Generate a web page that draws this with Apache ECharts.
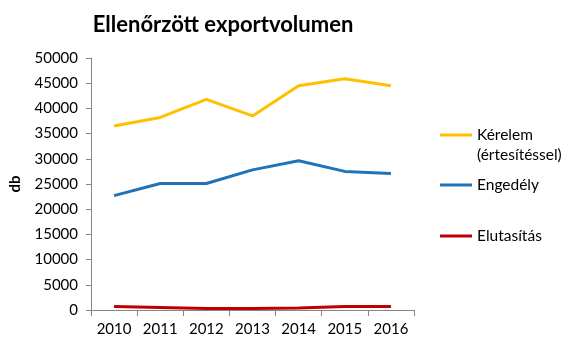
<!DOCTYPE html>
<html><head><meta charset="utf-8">
<script src="https://cdn.jsdelivr.net/npm/echarts@6/dist/echarts.min.js"></script>
<style>html,body{margin:0;padding:0;background:#fff}#c{width:585px;height:356px}</style>
</head><body><div id="c"></div>
<script>
const categories = ['2010','2011','2012','2013','2014','2015','2016'];
const kerelem = [36500, 38200, 41800, 38500, 44500, 45900, 44500];
const engedely = [22700, 25100, 25100, 27800, 29600, 27500, 27100];
const elutasitas = [700, 500, 300, 300, 400, 700, 700];
const seriesNames = ['Kérelem (értesítéssel)', 'Engedély', 'Elutasítás'];
const colors = ['#FFC000', '#1F73B8', '#C00000'];
const font = 'Lato, "Open Sans", sans-serif';

const chart = echarts.init(document.getElementById('c'), null, {renderer:'canvas'});
const mkLegend = (name, top, label) => ({
  data: [name], left: 440, top: top, orient: 'vertical',
  itemWidth: 32, itemHeight: 3, icon: 'rect', padding: 0,
  selectedMode: false,
  formatter: () => label,
  textStyle: {fontFamily: font, fontSize: 15.5, color: '#000'}
});
chart.setOption({
  animation: false,
  color: colors,
  title: {text: 'Ellenőrzött exportvolumen', left: 218, top: 9, textAlign: 'center',
    textStyle: {fontFamily: font, fontSize: 22, fontWeight: 'bold', color: '#000'}},
  grid: {left: 83, right: 171, top: 58, bottom: 46},
  legend: [
    mkLegend(seriesNames[0], 127, 'Kérelem'),
    mkLegend(seriesNames[1], 177, 'Engedély'),
    mkLegend(seriesNames[2], 228, 'Elutasítás')
  ],
  graphic: [{type: 'text', left: 477, top: 147,
    style: {text: '(értesítéssel)', font: '15.5px ' + font, fill: '#000'}}],
  xAxis: {type: 'category', data: categories, boundaryGap: true,
    axisLine: {lineStyle: {color: '#868686'}},
    axisTick: {show: true, length: 6, lineStyle: {color: '#868686'}},
    axisLabel: {margin: 12, fontFamily: font, fontSize: 15, color: '#000'}},
  yAxis: {type: 'value', min: 0, max: 50000, interval: 5000,
    name: 'db', nameLocation: 'middle', nameGap: 68, nameRotate: 90,
    nameTextStyle: {fontFamily: font, fontSize: 15, fontWeight: 'bold', color: '#000'},
    axisLine: {show: true, lineStyle: {color: '#868686'}},
    axisTick: {show: true, length: 5, lineStyle: {color: '#868686'}},
    splitLine: {show: false},
    axisLabel: {margin: 13, fontFamily: font, fontSize: 15, color: '#000',
      formatter: v => String(v)}},
  series: [
    {name: seriesNames[0], type: 'line', data: kerelem, symbol: 'none', lineStyle: {width: 3}},
    {name: seriesNames[1], type: 'line', data: engedely, symbol: 'none', lineStyle: {width: 3}},
    {name: seriesNames[2], type: 'line', data: elutasitas, symbol: 'none', lineStyle: {width: 3}}
  ]
});
</script></body></html>
